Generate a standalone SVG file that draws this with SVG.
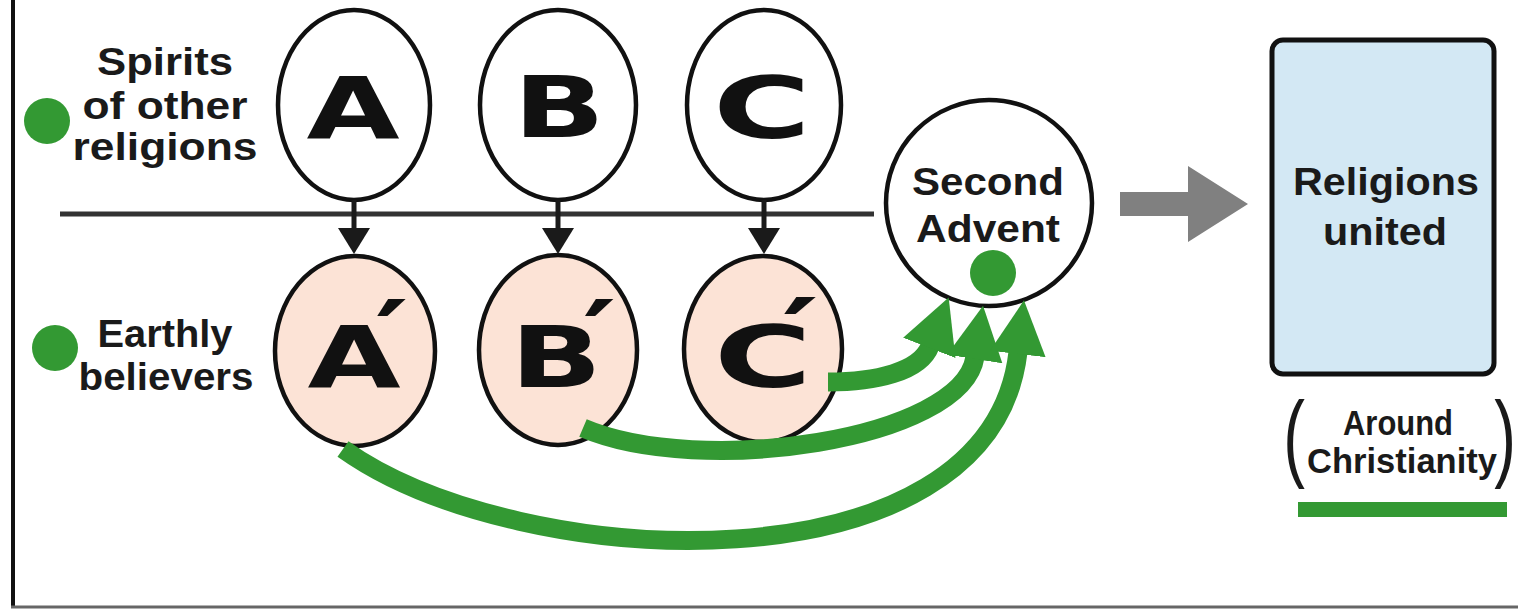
<svg xmlns="http://www.w3.org/2000/svg" width="1518" height="610" viewBox="0 0 1518 610">
<defs>
<style>
.lbl{font-family:"Liberation Sans",Arial,sans-serif;font-weight:bold;fill:#1a1a1a;text-anchor:middle}
.paren{font-family:"Liberation Sans",Arial,sans-serif;font-weight:normal;font-size:96px;fill:#1a1a1a;text-anchor:middle}
.big{font-family:"DejaVu Sans","Liberation Sans",sans-serif;font-weight:bold;font-size:86px;fill:#111;text-anchor:middle}
.acc{font-size:92px}
.upper{fill:#fff;stroke:#111;stroke-width:4.5}
.lower{fill:#fce3d6;stroke:#111;stroke-width:4.5}
.dot{fill:#339933}
.drop{stroke:#1a1a1a;stroke-width:5;fill:none}
.green{stroke:#339933;stroke-width:19;fill:none}
</style>
<marker id="blackHead" markerUnits="userSpaceOnUse" markerWidth="30" markerHeight="34" viewBox="0 -17 30 34" refX="1" refY="0" orient="auto">
<path d="M0,-16 L26,0 L0,16 Z" fill="#1a1a1a"/>
</marker>
<marker id="greenHead" markerUnits="userSpaceOnUse" markerWidth="60" markerHeight="60" viewBox="0 -30 60 60" refX="2" refY="0" orient="auto">
<path d="M0,-28 L54,0 L0,28 Z" fill="#339933"/>
</marker>
</defs>
<rect x="0" y="0" width="1518" height="610" fill="#fff"/>
<g id="frame">
<line x1="13" y1="0" x2="13" y2="607" stroke="#111" stroke-width="4"/>
<line x1="11" y1="607" x2="1518" y2="607" stroke="#666" stroke-width="3"/>
</g>
<g id="divider">
<line x1="60" y1="214" x2="874" y2="214" stroke="#333" stroke-width="5"/>
</g>
<g id="label-spirits">
<circle class="dot" cx="47" cy="121" r="23"/>
<text class="lbl" font-size="38"><tspan x="165" y="75" textLength="136" lengthAdjust="spacingAndGlyphs">Spirits</tspan><tspan x="165" y="119" textLength="165" lengthAdjust="spacingAndGlyphs">of other</tspan><tspan x="165" y="160" textLength="185" lengthAdjust="spacingAndGlyphs">religions</tspan></text>
</g>
<g id="label-earthly">
<circle class="dot" cx="55" cy="348" r="23"/>
<text class="lbl" font-size="38"><tspan x="165" y="347" textLength="135" lengthAdjust="spacingAndGlyphs">Earthly</tspan><tspan x="166" y="390" textLength="175" lengthAdjust="spacingAndGlyphs">believers</tspan></text>
</g>
<g id="node-A">
<ellipse class="upper" cx="354" cy="105" rx="76" ry="95"/>
<text class="big" transform="translate(353,138) scale(1.4,1)">A</text>
</g>
<g id="node-B">
<ellipse class="upper" cx="558" cy="105" rx="78" ry="95"/>
<text class="big" transform="translate(559,137) scale(1.4,1)">B</text>
</g>
<g id="node-C">
<ellipse class="upper" cx="764" cy="105" rx="77" ry="95"/>
<text class="big" transform="translate(762,138) scale(1.55,1)">C</text>
</g>
<g id="node-A2">
<ellipse class="lower" cx="355" cy="351" rx="80" ry="95"/>
<text class="big" transform="translate(354,387) scale(1.4,1)">A<tspan class="acc" x="27" y="-20">′</tspan></text>
</g>
<g id="node-B2">
<ellipse class="lower" cx="558" cy="350" rx="79" ry="95"/>
<text class="big" transform="translate(556,387) scale(1.4,1)">B<tspan class="acc" x="31" y="-20">′</tspan></text>
</g>
<g id="node-C2">
<ellipse class="lower" cx="763" cy="349" rx="79" ry="93"/>
<text class="big" transform="translate(763,387) scale(1.55,1)">C<tspan class="acc" x="24" y="-22">′</tspan></text>
</g>
<g id="node-advent">
<ellipse class="upper" cx="989" cy="203" rx="103" ry="103"/>
<text class="lbl" font-size="39"><tspan x="988" y="195" textLength="152" lengthAdjust="spacingAndGlyphs">Second</tspan><tspan x="988" y="242" textLength="144" lengthAdjust="spacingAndGlyphs">Advent</tspan></text>
<circle class="dot" cx="993" cy="273" r="23"/>
</g>
<g id="node-united">
<rect x="1272" y="40" width="222" height="334" rx="11" fill="#d3e8f4" stroke="#111" stroke-width="5"/>
<text class="lbl" font-size="39"><tspan x="1386" y="195" textLength="186" lengthAdjust="spacingAndGlyphs">Religions</tspan><tspan x="1385" y="245" textLength="124" lengthAdjust="spacingAndGlyphs">united</tspan></text>
</g>
<g id="label-around">
<text class="paren" transform="translate(1294,469) scale(0.68,1)">(</text>
<text class="paren" transform="translate(1505,469) scale(0.68,1)">)</text>
<text class="lbl" font-size="35"><tspan x="1398" y="435" textLength="110" lengthAdjust="spacingAndGlyphs">Around</tspan><tspan x="1402" y="473" textLength="190" lengthAdjust="spacingAndGlyphs">Christianity</tspan></text>
<rect x="1298" y="502" width="209" height="15" fill="#339933"/>
</g>
<g id="connectors">
<path class="drop" d="M354,200 L354,229" marker-end="url(#blackHead)"/>
<path class="drop" d="M558,200 L558,229" marker-end="url(#blackHead)"/>
<path class="drop" d="M764,200 L764,229" marker-end="url(#blackHead)"/>
<path d="M1120,192 L1188,192 L1188,166 L1248,204 L1188,242 L1188,216 L1120,216 Z" fill="#808080"/>
<path class="green" d="M828,382 C875,382 920,372 930,346" marker-end="url(#greenHead)"/>
<path class="green" d="M583,428 C700,478 962,440 975,357" marker-end="url(#greenHead)"/>
<path class="green" d="M343,449 C520,575 990,595 1018,352" marker-end="url(#greenHead)"/>
</g>
</svg>
